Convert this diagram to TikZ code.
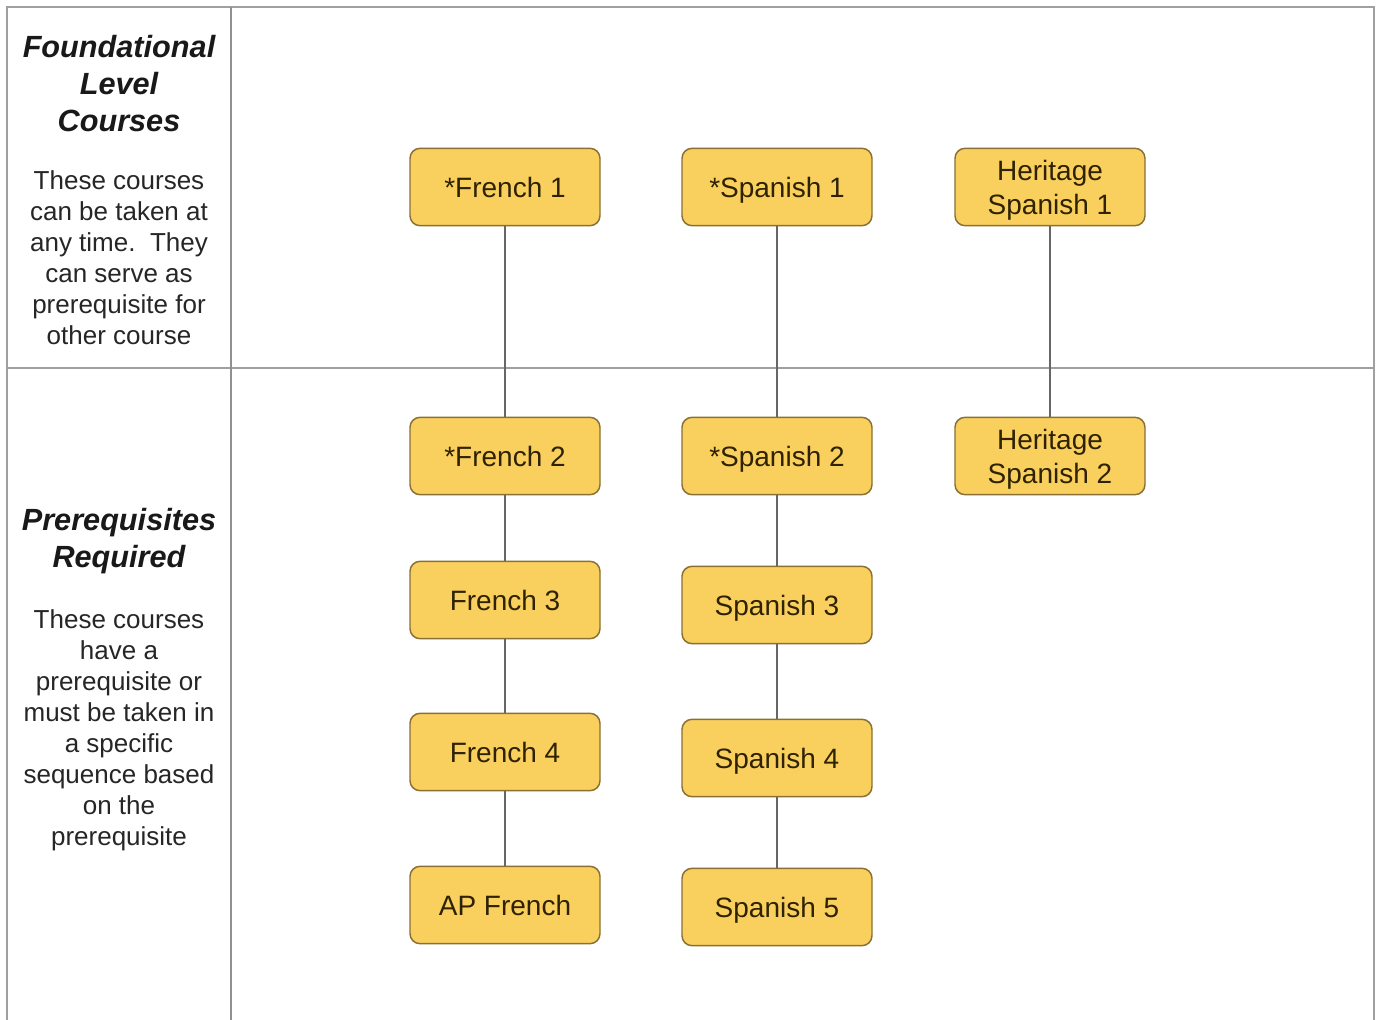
\documentclass[tikz,border=0pt]{standalone}
\usepackage{fontspec}
\setmainfont{Liberation Sans}
\begin{document}
\begin{tikzpicture}[x=0.75pt,y=-0.75pt,
  course/.style={draw=boxline,line width=1.1pt,fill=boxfill,rounded corners=7.5pt,
    minimum width=142.5pt,minimum height=58pt,align=center,text=boxtext,
    font=\fontsize{21}{26}\selectfont,inner sep=0pt},
  oneline/.style={text height=19pt,text depth=3.5pt},
  link/.style={draw=linkgray,line width=1pt},
  grid/.style={draw=gridgray,line width=1.1pt},
  title/.style={align=center,font=\fontsize{23}{27.75}\selectfont\bfseries\itshape,text=black!90},
  body/.style={align=center,font=\fontsize{19.5}{23.25}\selectfont,text=black!85}]
\definecolor{boxfill}{HTML}{F9CF5E}
\definecolor{boxline}{HTML}{8A7035}
\definecolor{boxtext}{HTML}{2E2200}
\definecolor{linkgray}{HTML}{666666}
\definecolor{gridgray}{HTML}{A0A0A0}
\useasboundingbox (0,0) rectangle (1379,1020);
\fill[white] (0,0) rectangle (1379,1020);
% table
\draw[grid] (7,1020) -- (7,7) -- (1374,7) -- (1374,1020);
\draw[grid] (7,368) -- (1374,368);
\draw[draw=gridgray!90!black,line width=2.2pt] (231,7) -- (231,1020);
% left column
\node[title] (t1) at (119,84) {Foundational\\Level\\Courses};
\node[body] (b1) at (119,258) {These courses\\can be taken at\\any time.\ \ They\\can serve as\\prerequisite for\\other course};
\node[title] (t2) at (119,541) {Prerequisites\\Required};
\node[body] (b2) at (119,730) {These courses\\have a\\prerequisite or\\must be taken in\\a specific\\sequence based\\on the\\prerequisite};
% courses
\node[course,oneline] (f1) at (505,187) {*French 1};
\node[course,oneline] (f2) at (505,456) {*French 2};
\node[course,oneline] (f3) at (505,600) {French 3};
\node[course,oneline] (f4) at (505,752) {French 4};
\node[course,oneline] (f5) at (505,905) {AP French};
\node[course,oneline] (s1) at (777,187) {*Spanish 1};
\node[course,oneline] (s2) at (777,456) {*Spanish 2};
\node[course,oneline] (s3) at (777,605) {Spanish 3};
\node[course,oneline] (s4) at (777,758) {Spanish 4};
\node[course,oneline] (s5) at (777,907) {Spanish 5};
\node[course] (h1) at (1050,187) {\rule{0pt}{20pt}Heritage\\Spanish 1};
\node[course] (h2) at (1050,456) {\rule{0pt}{20pt}Heritage\\Spanish 2};
% connectors
\draw[link] (f1) -- (f2);
\draw[link] (f2) -- (f3);
\draw[link] (f3) -- (f4);
\draw[link] (f4) -- (f5);
\draw[link] (s1) -- (s2);
\draw[link] (s2) -- (s3);
\draw[link] (s3) -- (s4);
\draw[link] (s4) -- (s5);
\draw[link] (h1) -- (h2);
\end{tikzpicture}
\end{document}
